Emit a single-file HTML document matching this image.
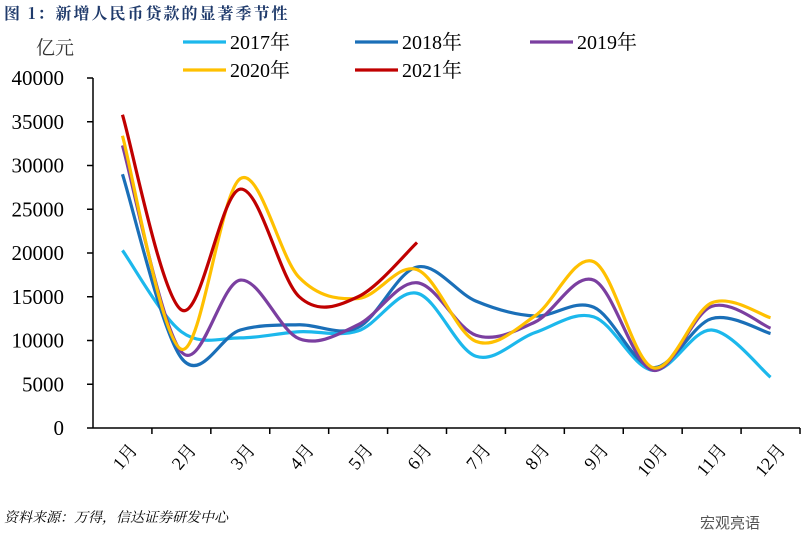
<!DOCTYPE html>
<html><head><meta charset="utf-8"><style>
body{margin:0;background:#fff;width:808px;height:546px;overflow:hidden;font-family:"Liberation Serif","Noto Serif CJK SC",serif}
</style></head><body>
<svg id="c" width="808" height="546" xmlns="http://www.w3.org/2000/svg">
<text x="4" y="19" font-size="16" font-weight="bold" fill="#1f3a6b" letter-spacing="2" font-family="Noto Serif CJK SC,serif">图 1：新增人民币贷款的显著季节性</text>
<text x="36" y="54" font-size="19" fill="#333" font-family="Noto Serif CJK SC,serif">亿元</text>
<text x="4" y="522" font-size="14" font-style="italic" font-family="Liberation Serif,Noto Serif CJK SC,serif">资料来源：万得，信达证券研发中心</text>
<text x="700" y="528" font-size="15" fill="#555" font-family="Noto Sans CJK SC,sans-serif">宏观亮语</text>
<g id="axes"></g><g id="series"></g><g id="legend"></g>
</svg>
<script>
const categories=['1月','2月','3月','4月','5月','6月','7月','8月','9月','10月','11月','12月'];
const yTicks=[0,5000,10000,15000,20000,25000,30000,35000,40000];
const s2017=[20300,11000,10300,11000,11100,15400,8200,10900,12700,6600,11200,5800];
const s2018=[29000,8000,11200,11800,11500,18400,14500,12800,13800,6900,12500,10800];
const s2019=[32300,8700,16900,10200,11800,16600,10600,12100,16900,6600,13900,11400];
const s2020=[33400,9000,28500,17200,14800,18100,9900,12800,19000,6900,14300,12600];
const s2021=[35800,13500,27300,15000,15000,21200];
const seriesNames=['2017年','2018年','2019年','2020年','2021年'];
const seriesData=[s2017,s2018,s2019,s2020,s2021];
const colors=['#1cb8ec','#1a6fb8','#7b3fa0','#ffc000','#c00000'];
const NS='http://www.w3.org/2000/svg';
const x0=93,x1=800,y0=428,y1=78;
const bw=(x1-x0)/categories.length;
const X=i=>x0+bw*(i+0.5);
const Y=v=>y0-(v/40000)*(y0-y1);
function mk(t,a,p){const e=document.createElementNS(NS,t);for(const k in a)e.setAttribute(k,a[k]);p.appendChild(e);return e;}
const ax=document.getElementById('axes');
let l=mk('line',{x1:x0,y1:y1,x2:x0,y2:y0,stroke:'#000','stroke-width':1.5},ax);


l=mk('line',{x1:x0,y1:y0,x2:x1,y2:y0,stroke:'#000','stroke-width':1.5},ax);


yTicks.forEach(v=>{
 const t=mk('line',{x1:x0-6,y1:Y(v),x2:x0,y2:Y(v),stroke:'#000','stroke-width':1.5},ax);
 
 
 const tx=mk('text',{x:x0-29,y:Y(v)+7,'font-size':21,'text-anchor':'end'},ax);
 tx.textContent=v;
 
 
});
categories.forEach((c,i)=>{
 const t=mk('line',{x1:x0+bw*(i+1),y1:y0,x2:x0+bw*(i+1),y2:y0+6,stroke:'#000','stroke-width':1.5},ax);
 
 
 const cx=X(i)+6,cy=y0+14;
 const tx=mk('text',{x:cx,y:cy,'font-size':18,'text-anchor':'end',transform:`rotate(-50 ${cx} ${cy})`,'dominant-baseline':'hanging','font-family':'Liberation Serif,Noto Serif CJK SC,serif'},ax);
 tx.textContent=c;
 
 
});
function path(d){
 const p=d.map((v,i)=>[X(i),Y(v)]);
 let s=`M${p[0][0]},${p[0][1]}`;
 for(let i=0;i<p.length-1;i++){
  const a=p[i-1]||p[i],b=p[i],c=p[i+1],e=p[i+2]||c;
  s+=` C${b[0]+(c[0]-a[0])/6},${b[1]+(c[1]-a[1])/6} ${c[0]-(e[0]-b[0])/6},${c[1]-(e[1]-b[1])/6} ${c[0]},${c[1]}`;
 }
 return s;
}
const sg=document.getElementById('series');
seriesData.forEach((d,k)=>{
 const p=mk('path',{d:path(d),fill:'none',stroke:colors[k],'stroke-width':3.2},sg);
 
 
});
const lg=document.getElementById('legend');
const lpos=[[183,42],[355,42],[530,42],[183,70],[355,70]];
seriesNames.forEach((n,k)=>{
 const [lx,ly]=lpos[k];
 const g=mk('g',{},lg);
 
 
 mk('line',{x1:lx,y1:ly,x2:lx+43,y2:ly,stroke:colors[k],'stroke-width':3.2},g);
 const t=mk('text',{x:lx+47,y:ly+7,'font-size':20},g);
 t.textContent=n;
});
</script>
</body></html>
